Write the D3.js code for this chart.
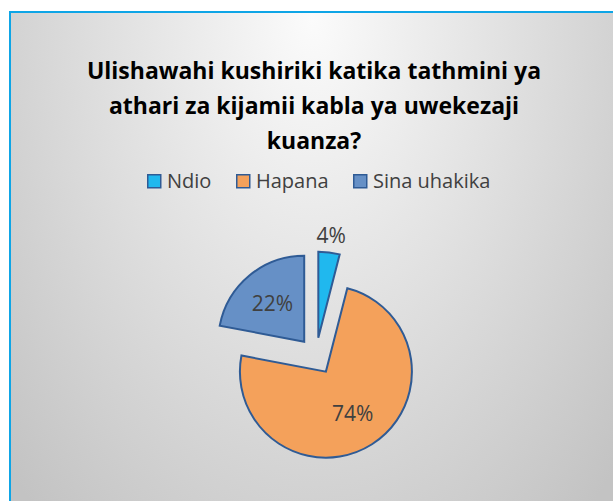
<!DOCTYPE html>
<html>
<head>
<meta charset="utf-8">
<script src="https://cdn.jsdelivr.net/npm/d3@7"></script>
<style>
  html, body { margin: 0; padding: 0; background: #ffffff; }
  svg { display: block; }
</style>
</head>
<body>
<script>
// data
var categories = ["Ndio", "Hapana", "Sina uhakika"],
    values = [4, 74, 22],
    colors = ["#20b8ee", "#f4a15b", "#6690c6"],
    titleLines = ["Ulishawahi kushiriki katika tathmini ya",
                  "athari za kijamii kabla ya uwekezaji",
                  "kuanza?"];

// setup
var width = 613, height = 501,
    cx = 316, cy = 356,
    radius = 86,
    explode = 18.5,
    outline = "#2f5b95",
    font = "'Open Sans', 'Noto Sans', sans-serif";

var svg = d3.select("body").append("svg")
    .attr("width", width).attr("height", height);

// background gradient (light at top centre, grey at the edges)
var grad = svg.append("defs").append("radialGradient")
    .attr("id", "bg")
    .attr("gradientUnits", "userSpaceOnUse")
    .attr("cx", 0).attr("cy", 0).attr("r", 1)
    .attr("gradientTransform", "translate(312,20) scale(420,650)");
grad.append("stop").attr("offset", 0).attr("stop-color", "#fbfbfb");
grad.append("stop").attr("offset", 1).attr("stop-color", "#c3c3c3");

svg.append("rect")
    .attr("x", 10).attr("y", 12)
    .attr("width", 640).attr("height", 520)
    .attr("fill", "url(#bg)")
    .attr("stroke", "#0ea5e6")
    .attr("stroke-width", 2);

// title
svg.append("text")
    .attr("font-family", font)
    .attr("font-weight", "bold")
    .attr("font-size", 23)
    .attr("fill", "#000")
    .attr("text-anchor", "middle")
  .selectAll("tspan")
  .data(titleLines)
  .enter().append("tspan")
    .attr("x", 314)
    .attr("y", function(d, i){ return 79 + i * 35; })
    .text(function(d){ return d; });

// legend
var legendPos = [147, 236, 353];
var legend = svg.append("g").attr("class", "legend")
  .selectAll("g")
  .data(categories)
  .enter().append("g")
    .attr("transform", function(d, i){ return "translate(" + legendPos[i] + ",174)"; });

legend.append("rect")
    .attr("x", 0.75).attr("y", 0.75)
    .attr("width", 13).attr("height", 13)
    .attr("fill", function(d, i){ return colors[i]; })
    .attr("stroke", outline)
    .attr("stroke-width", 1.5);

legend.append("text")
    .attr("x", 20).attr("y", 14)
    .attr("font-family", font)
    .attr("font-size", 20)
    .attr("fill", "#404040")
    .text(function(d){ return d; });

// pie
var pie = d3.pie().sort(null).value(function(d){ return d; }),
    arcs = pie(values),
    arc = d3.arc().innerRadius(0).outerRadius(radius),
    labelArc = d3.arc().innerRadius(50).outerRadius(50),
    outerLabelArc = d3.arc().innerRadius(103).outerRadius(103);

function offset(d){
  var a = (d.startAngle + d.endAngle) / 2;
  return [Math.sin(a) * explode, -Math.cos(a) * explode];
}

var slices = svg.append("g").attr("class", "pie")
    .attr("transform", "translate(" + cx + "," + cy + ")")
  .selectAll("g")
  .data(arcs)
  .enter().append("g")
    .attr("transform", function(d){ var o = offset(d); return "translate(" + o[0] + "," + o[1] + ")"; });

slices.append("path")
    .attr("d", arc)
    .attr("fill", function(d, i){ return colors[i]; })
    .attr("stroke", outline)
    .attr("stroke-width", 2)
    .attr("stroke-linejoin", "miter");

slices.append("text")
    .attr("transform", function(d){
      var c = d.value < 10 ? outerLabelArc.centroid(d) : labelArc.centroid(d);
      return "translate(" + c + ")";
    })
    .attr("dy", "0.35em")
    .attr("text-anchor", "middle")
    .attr("font-family", font)
    .attr("font-size", 21)
    .attr("fill", "#404040")
    .text(function(d){ return d.value + "%"; });
</script>
</body>
</html>
